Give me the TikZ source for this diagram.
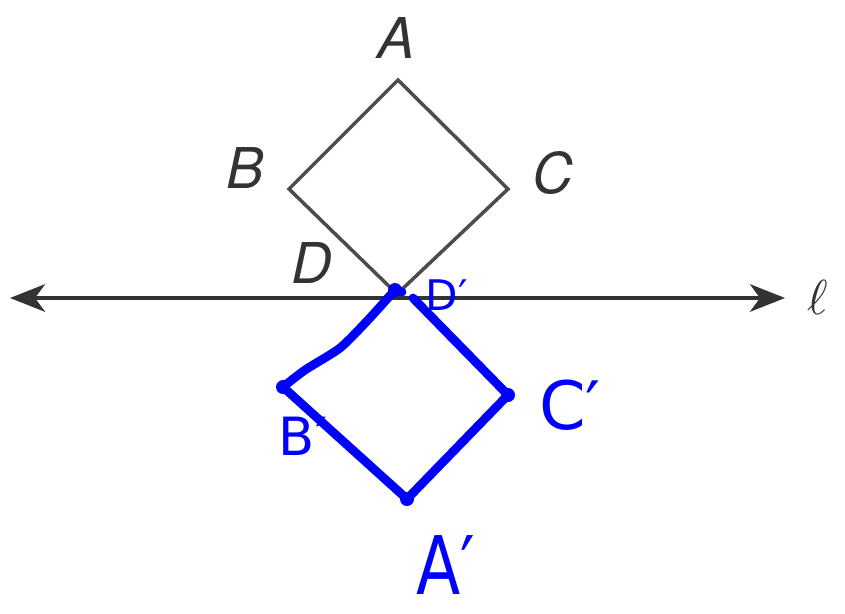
\documentclass[tikz,border=0pt]{standalone}
\usepackage{fontspec}
\setsansfont{TeX Gyre Heros}
\newfontfamily\handfont{DejaVu Sans}
\usetikzlibrary{arrows.meta}

\begin{document}
\begin{tikzpicture}[x=0.02cm, y=-0.02cm,
    vertex/.style={font=\sffamily\itshape\fontsize{32}{36}\selectfont, text=black!80},
    hand/.style={blue, line width=5pt, line cap=round, line join=round},
    handlabel/.style={text=blue, font=\handfont}]

    \useasboundingbox (0,0) rectangle (845,613);

    % Line l
    \coordinate (L) at (10,298);
    \coordinate (R) at (785,298);
    \draw[line width=2.2pt, black!80,
        {Stealth[length=0.7cm, width=0.55cm, inset=0.2cm]}-{Stealth[length=0.7cm, width=0.55cm, inset=0.2cm]}]
        (L) -- (R);
    \node[scale=2.8, text=black!80] (ell) at (818,297) {$\ell$};

    % Square ABCD
    \coordinate (A) at (398,80);
    \coordinate (B) at (289,189);
    \coordinate (C) at (508,189);
    \coordinate (D) at (397,294);
    \draw[line width=2pt, black!70] (A) -- (C) -- (D) -- (B) -- cycle;
    \node[vertex] (labA) at (396,38) {A};
    \node[vertex] (labB) at (245,168) {B};
    \node[vertex] (labC) at (553,173) {C};
    \node[vertex] (labD) at (312,263) {D};

    % Reflected square, drawn by hand
    \coordinate (Dp) at (395,290);
    \coordinate (Dq) at (413,298);
    \coordinate (Bp) at (283,387);
    \coordinate (Ap) at (407,499);
    \coordinate (Cp) at (508,395);
    \coordinate (w1) at (368,320);
    \coordinate (w2) at (340,348);
    \coordinate (w3) at (305,370);
    \draw[hand] plot[smooth, tension=0.4] coordinates {(Dp) (w1) (w2) (w3) (Bp)};
    \draw[hand] (Bp) -- (Ap) -- (Cp) -- (Dq);
    \draw[hand] (Dp) -- (402,292);
    \foreach \p in {Dp,Bp,Ap,Cp}
        \fill[blue] (\p) circle (0.14cm);

    \node[handlabel, font=\handfont\fontsize{24}{26}\selectfont] (labDp) at (447,295) {D′};
    \node[handlabel, font=\handfont\fontsize{38}{40}\selectfont] (labCp) at (570,405) {C′};
    \node[handlabel, font=\handfont\fontsize{30}{32}\selectfont] (labBp) at (303,436) {B′};
    \node[handlabel, font=\handfont\fontsize{46}{50}\selectfont, xscale=0.8] (labAp) at (446,565) {A′};

\end{tikzpicture}
\end{document}
